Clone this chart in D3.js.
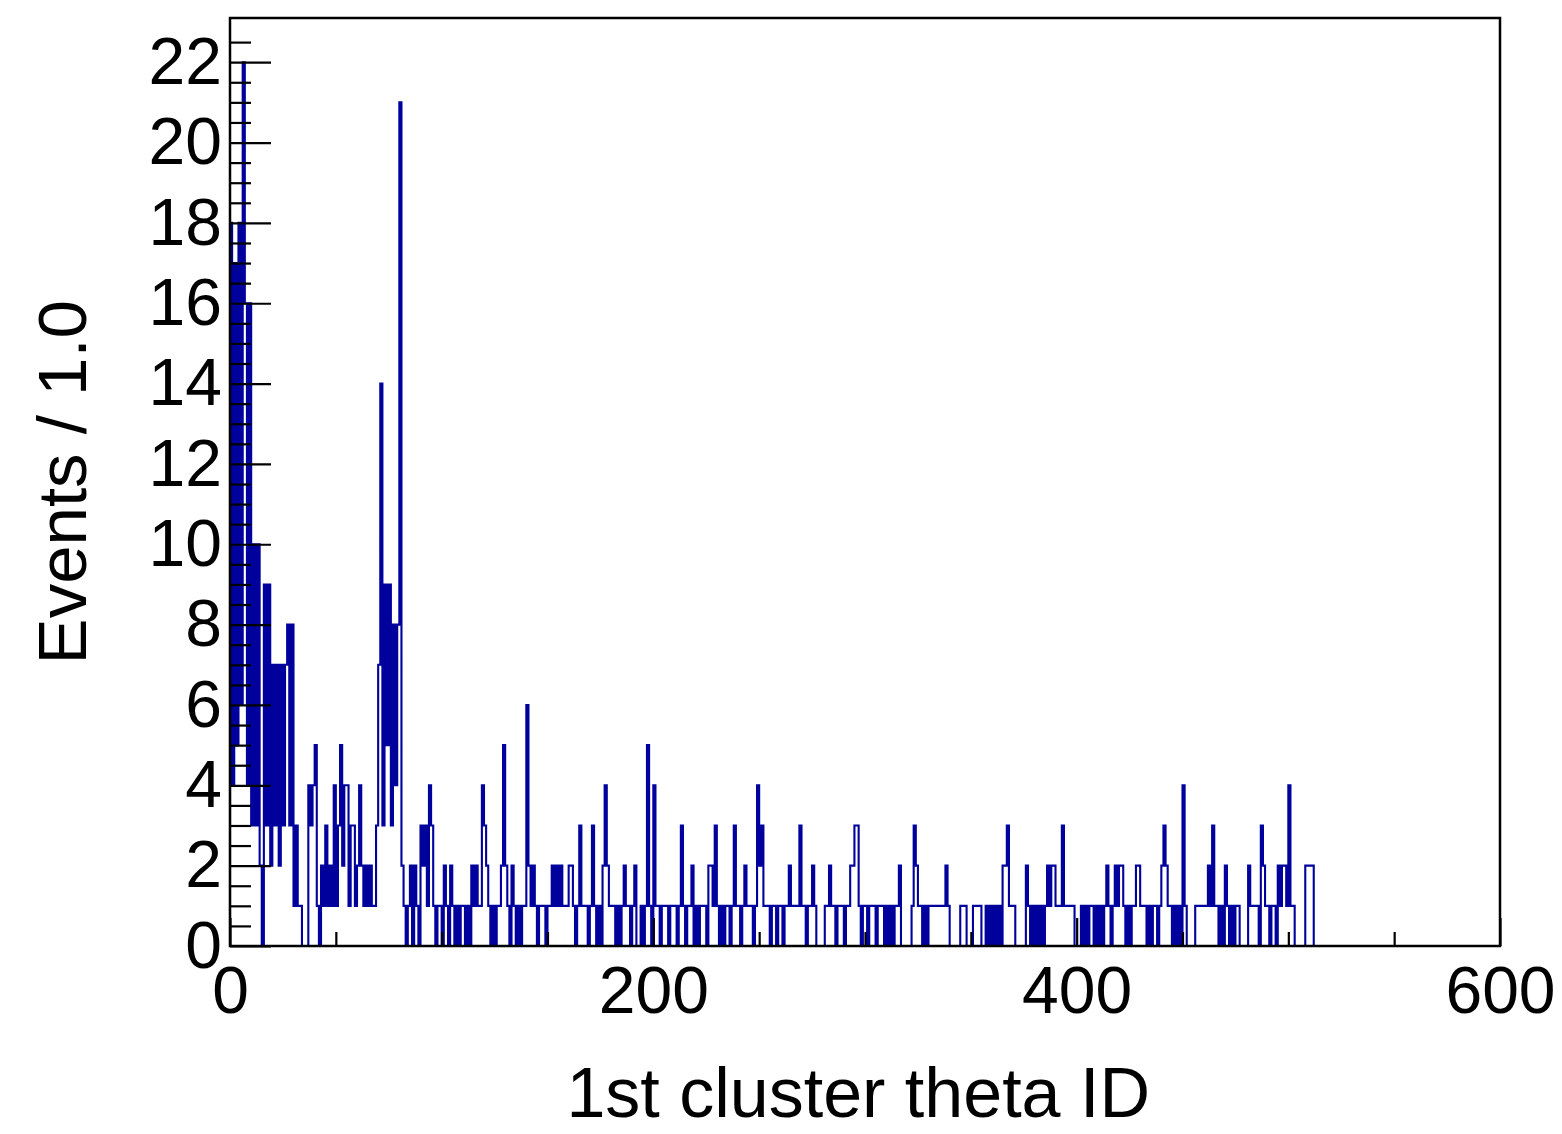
<!DOCTYPE html>
<html lang="en">
<head>
<meta charset="UTF-8">
<title>1st cluster theta ID</title>
<script src="https://d3js.org/d3.v7.min.js"></script>
<style>
  body { margin: 0; background: #fff; }
  svg { display: block; font-family: "Liberation Sans", Arial, sans-serif; }
</style>
</head>
<body>
<svg id="chart" width="1562" height="1134"></svg>
<script>
// entries per theta ID bin (bin width 1, starting at 0)
const counts = [
  18, 4, 17, 5, 18, 6, 22, 16, 4, 16, 3, 10, 3, 10, 2, 0, 9, 3, 9, 2,
  7, 3, 7, 2, 7, 3, 7, 8, 3, 8, 1, 3, 1, 1, 0, 0, 0, 4, 3, 4,
  5, 1, 0, 2, 1, 3, 1, 2, 1, 4, 1, 3, 5, 2, 4, 4, 1, 3, 3, 1,
  2, 4, 2, 1, 2, 1, 2, 1, 1, 3, 7, 14, 3, 9, 5, 9, 3, 8, 4, 8,
  21, 2, 1, 0, 1, 2, 0, 2, 1, 0, 3, 2, 3, 1, 4, 3, 1, 0, 1, 1,
  0, 2, 1, 0, 2, 1, 0, 1, 0, 1, 1, 0, 1, 0, 2, 1, 2, 1, 1, 4,
  3, 2, 1, 0, 1, 0, 1, 1, 2, 5, 2, 1, 0, 2, 1, 0, 1, 0, 1, 1,
  6, 2, 1, 2, 1, 0, 1, 1, 1, 0, 1, 1, 2, 1, 2, 1, 2, 1, 1, 1,
  2, 2, 1, 0, 1, 3, 1, 1, 1, 0, 1, 3, 1, 0, 1, 0, 2, 4, 2, 1,
  1, 1, 0, 1, 0, 1, 2, 1, 1, 0, 1, 2, 0, 0, 1, 0, 1, 5, 1, 0,
  4, 1, 1, 0, 1, 1, 1, 0, 1, 1, 1, 0, 1, 3, 1, 0, 1, 1, 2, 0,
  1, 0, 1, 1, 1, 0, 2, 2, 1, 3, 1, 0, 1, 0, 1, 1, 0, 1, 3, 1,
  1, 0, 1, 2, 1, 1, 1, 0, 1, 4, 2, 3, 1, 1, 1, 0, 1, 1, 0, 1,
  1, 0, 1, 1, 2, 1, 1, 1, 1, 3, 1, 1, 0, 1, 1, 2, 1, 0, 0, 0,
  0, 1, 1, 2, 1, 1, 0, 1, 1, 1, 0, 1, 1, 2, 2, 3, 3, 1, 0, 1,
  1, 0, 1, 1, 1, 0, 1, 1, 1, 0, 1, 0, 1, 0, 1, 1, 2, 0, 0, 0,
  0, 0, 1, 3, 2, 1, 1, 0, 1, 0, 1, 1, 1, 1, 1, 1, 1, 1, 2, 1,
  0, 0, 0, 0, 0, 1, 1, 1, 0, 0, 0, 1, 1, 1, 1, 0, 0, 1, 0, 1,
  0, 1, 0, 1, 0, 2, 2, 3, 1, 1, 1, 0, 0, 0, 0, 0, 2, 1, 0, 1,
  0, 1, 0, 1, 0, 1, 2, 1, 2, 2, 1, 1, 1, 3, 1, 1, 1, 1, 1, 0,
  0, 0, 1, 0, 1, 0, 1, 1, 0, 1, 0, 1, 0, 1, 2, 1, 0, 1, 2, 1,
  2, 2, 1, 0, 1, 0, 1, 1, 2, 2, 1, 1, 1, 0, 1, 0, 1, 1, 0, 1,
  2, 3, 2, 1, 1, 0, 1, 0, 1, 0, 4, 1, 0, 0, 0, 0, 1, 1, 1, 1,
  1, 1, 2, 1, 3, 1, 1, 0, 1, 0, 2, 1, 0, 1, 0, 1, 1, 0, 0, 0,
  0, 2, 1, 1, 1, 1, 0, 3, 2, 1, 1, 0, 1, 1, 0, 2, 1, 2, 2, 1,
  4, 1, 1, 0, 0, 0, 0, 0, 2, 2, 2, 2
];

const xMajor = [0, 200, 400, 600];
const xMinor = [50, 100, 150, 250, 300, 350, 450, 500, 550];
const yMajor = [0, 2, 4, 6, 8, 10, 12, 14, 16, 18, 20, 22];
const yMinor = [0.5, 1, 1.5, 2.5, 3, 3.5, 4.5, 5, 5.5, 6.5, 7, 7.5, 8.5, 9, 9.5,
  10.5, 11, 11.5, 12.5, 13, 13.5, 14.5, 15, 15.5, 16.5, 17, 17.5, 18.5, 19, 19.5,
  20.5, 21, 21.5, 22.5];

const xTitle = "1st cluster theta ID";
const yTitle = "Events / 1.0";

const frameLeft = 230, frameRight = 1500, frameTop = 18, frameBottom = 946;
const svg = d3.select("#chart");

const x = d3.scaleLinear().domain([0, 600]).range([frameLeft, frameRight]);
const y = d3.scaleLinear().domain([0, 23.1]).range([frameBottom, frameTop]);

// step outline of the histogram
const verts = [[0, 0]];
counts.forEach((c, i) => { verts.push([i, c], [i + 1, c]); });
verts.push([counts.length, 0]);

const line = d3.line().x(d => x(d[0])).y(d => y(d[1]));

svg.append("path")
  .attr("d", line(verts))
  .attr("fill", "none")
  .attr("stroke", "#00009c")
  .attr("stroke-width", 2.1)
  .attr("stroke-linejoin", "miter");

// axes, ticks pointing into the frame
const fontSize = 66;

const yAxis = svg.append("g").attr("transform", `translate(${frameLeft},0)`)
  .call(d3.axisLeft(y).tickValues(yMajor).tickSizeInner(-41).tickSizeOuter(0).tickPadding(8));
const yAxisMinor = svg.append("g").attr("transform", `translate(${frameLeft},0)`)
  .call(d3.axisLeft(y).tickValues(yMinor).tickSizeInner(-21).tickSizeOuter(0).tickFormat(""));

const xAxis = svg.append("g").attr("transform", `translate(0,${frameBottom})`)
  .call(d3.axisBottom(x).tickValues(xMajor).tickSizeInner(-28).tickSizeOuter(0).tickPadding(20));
const xAxisMinor = svg.append("g").attr("transform", `translate(0,${frameBottom})`)
  .call(d3.axisBottom(x).tickValues(xMinor).tickSizeInner(-14).tickSizeOuter(0).tickFormat(""));

[yAxis, yAxisMinor, xAxis, xAxisMinor].forEach(g => {
  g.select(".domain").remove();
  g.selectAll(".tick line").attr("stroke", "#000").attr("stroke-width", 2.2);
  g.selectAll("text")
    .attr("fill", "#000")
    .style("font-size", fontSize + "px")
    .style("font-family", "'Liberation Sans', Arial, sans-serif");
});

// frame
svg.append("rect")
  .attr("x", frameLeft).attr("y", frameTop)
  .attr("width", frameRight - frameLeft).attr("height", frameBottom - frameTop)
  .attr("fill", "none")
  .attr("stroke", "#000")
  .attr("stroke-width", 2.5);

// titles
svg.append("text")
  .attr("x", 1150).attr("y", 1117)
  .attr("text-anchor", "end")
  .style("font-size", "70px")
  .text(xTitle);

svg.append("text")
  .attr("transform", "translate(86,300) rotate(-90)")
  .attr("text-anchor", "end")
  .style("font-size", "69px")
  .text(yTitle);
</script>
</body>
</html>
